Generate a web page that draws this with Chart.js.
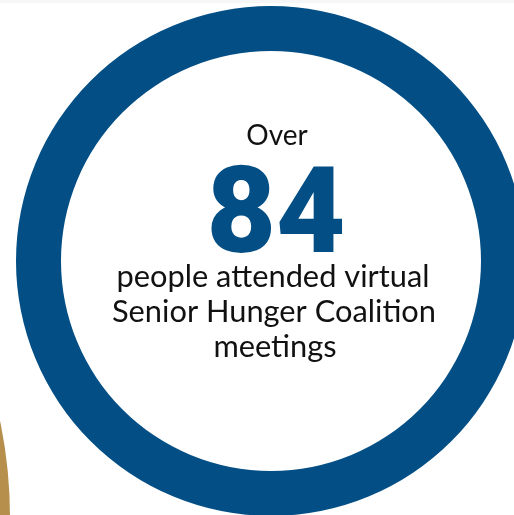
<!DOCTYPE html>
<html lang="en">

<head>
    <meta charset="utf-8">
    <title>Senior Hunger Coalition</title>
    <script src="https://cdn.jsdelivr.net/npm/chart.js"></script>
    <style>
        html, body { margin: 0; padding: 0; background: #fff; overflow: hidden; width: 514px; height: 515px; }
        #topband { position: absolute; left: 0; top: 0; width: 514px; height: 3px; background: #f6f6f6; }
        #ring { position: absolute; left: 16px; top: 6px; }
        #gold { position: absolute; left: -930px; top: 47px; }
    </style>
</head>

<body>
    <div id="topband"></div>
    <canvas id="gold" width="940" height="940"></canvas>
    <canvas id="ring" width="510" height="510"></canvas>

    <script>
        // values
        const ringLabels = ['Attendees'];
        const ringValues = [84];
        const goldLabels = ['Other'];
        const goldValues = [1];
        const headline = 'Over';
        const bigNumber = '84';
        const caption = ['people attended virtual', 'Senior Hunger Coalition', 'meetings'];

        const BLUE = '#034f85';
        const GOLD = '#b78f4c';

        // writes the text in the middle of the ring
        const centerText = {
            id: 'centerText',
            afterDraw(chart) {
                const arc = chart.getDatasetMeta(0).data[0];
                const ctx = chart.ctx;
                const cx = arc.x + 4;
                const cy = arc.y;
                ctx.save();
                ctx.textAlign = 'center';
                ctx.textBaseline = 'alphabetic';
                ctx.fillStyle = '#111';
                ctx.font = '28px Lato';
                ctx.fillText(headline, cx + 2, cy - 116);

                ctx.fillStyle = BLUE;
                ctx.font = '900 120px Roboto';
                ctx.fillText(bigNumber, cx + 1, cy - 9);

                ctx.fillStyle = '#111';
                ctx.font = '30.8px Lato';
                ctx.fillText(caption[0], cx - 2, cy + 26);
                ctx.fillText(caption[1], cx - 1, cy + 61);
                ctx.fillText(caption[2], cx, cy + 96);
                ctx.restore();
            }
        };

        const common = {
            responsive: false,
            animation: false,
            devicePixelRatio: 1,
            plugins: { legend: { display: false }, tooltip: { enabled: false } },
            layout: { padding: 0 }
        };

        function draw() {
            new Chart(document.getElementById('gold').getContext('2d'), {
                type: 'doughnut',
                data: {
                    labels: goldLabels,
                    datasets: [{ data: goldValues, backgroundColor: GOLD, borderWidth: 0 }]
                },
                options: Object.assign({}, common, { cutout: '90%' })
            });

            new Chart(document.getElementById('ring').getContext('2d'), {
                type: 'doughnut',
                data: {
                    labels: ringLabels,
                    datasets: [{ data: ringValues, backgroundColor: BLUE, borderWidth: 0 }]
                },
                options: Object.assign({}, common, { cutout: 210 }),
                plugins: [centerText]
            });
        }

        Promise.all([
            document.fonts.load('30px Lato'),
            document.fonts.load('900 120px Roboto')
        ]).then(draw, draw);
    </script>
</body>

</html>
